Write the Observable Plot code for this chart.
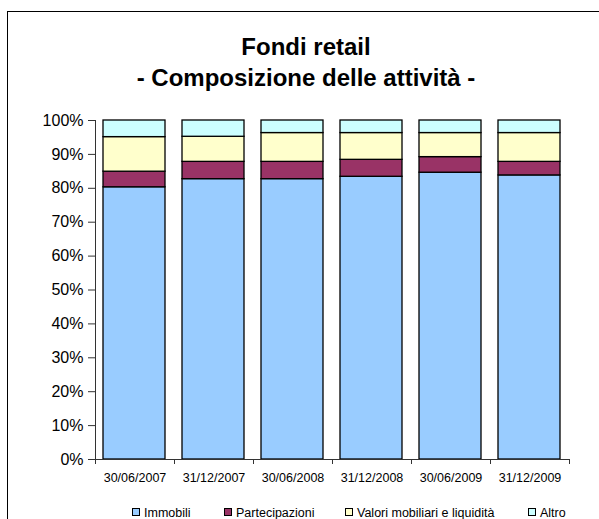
<!DOCTYPE html>
<html>
<head>
<meta charset="utf-8">
<script src="https://cdn.jsdelivr.net/npm/d3@7"></script>
<script src="https://cdn.jsdelivr.net/npm/@observablehq/plot@0.6"></script>
<style>
  html, body { margin: 0; padding: 0; background: #fff; }
  #wrap { position: relative; width: 599px; height: 519px; overflow: hidden; font-family: "Liberation Sans", Arial, sans-serif; }
  #frame { position: absolute; left: 7px; top: 11px; width: 700px; height: 600px; border: 1.5px solid #000; box-sizing: border-box; }
  #title { position: absolute; left: 0; top: 31px; width: 612px; text-align: center; font-weight: bold; font-size: 24px; line-height: 31px; color: #000; }
  #chart { position: absolute; left: 0; top: 100px; }
  #legend { position: absolute; left: 0; top: 506px; width: 599px; height: 16px; font-size: 12.5px; color: #000; }
  .item { position: absolute; top: 0; white-space: nowrap; line-height: 15px; }
  .sw { display: inline-block; width: 6px; height: 6px; border: 1px solid #000; margin-right: 4px; vertical-align: 1px; }
</style>
</head>
<body>
<div id="wrap">
  <div id="frame"></div>
  <div id="title">Fondi retail<br>- Composizione delle attività -</div>
  <div id="chart"></div>
  <div id="legend"></div>
</div>
<script>
const dates = ["30/06/2007", "31/12/2007", "30/06/2008", "31/12/2008", "30/06/2009", "31/12/2009"];
const seriesNames = ["Immobili", "Partecipazioni", "Valori mobiliari e liquidità", "Altro"];
const seriesColors = ["#99CCFF", "#993366", "#FFFFCC", "#CCFFFF"];
const immobili = [80.3, 82.7, 82.7, 83.4, 84.6, 83.8];
const partecipazioni = [4.6, 5.1, 5.1, 5.0, 4.6, 4.0];
const valori = [10.2, 7.4, 8.5, 7.9, 7.1, 8.5];
const altro = [4.9, 4.8, 3.7, 3.7, 3.7, 3.7];
const yTicks = [0, 10, 20, 30, 40, 50, 60, 70, 80, 90, 100];

const seriesValues = [immobili, partecipazioni, valori, altro];
const rows = [];
dates.forEach((d, i) => {
  seriesNames.forEach((s, k) => {
    rows.push({date: d, i0: i, i1: i + 1, series: s, value: seriesValues[k][i]});
  });
});
const boundaries = d3.range(dates.length + 1);
const centers = dates.map((d, i) => i + 0.5);

const chart = Plot.plot({
  width: 599,
  height: 400,
  marginLeft: 95,
  marginRight: 30,
  marginTop: 20,
  marginBottom: 41,
  style: {fontFamily: "Liberation Sans, Arial, sans-serif", background: "transparent", color: "#000"},
  x: {domain: [0, dates.length]},
  y: {domain: [0, 100]},
  color: {domain: seriesNames, range: seriesColors},
  marks: [
    Plot.rectY(rows, Plot.stackY({
      x1: "i0", x2: "i1", y: "value", fill: "series", order: null,
      stroke: "#000", strokeWidth: 1.3, insetLeft: 8, insetRight: 9
    })),
    Plot.ruleY([0], {stroke: "#333", strokeWidth: 1}),
    Plot.ruleX([0], {y1: 0, y2: 100, stroke: "#333", strokeWidth: 1}),
    Plot.axisY({ticks: yTicks, tickSize: 7, tickPadding: 5, tickFormat: d => d + "%", fontSize: 16, label: null, stroke: "#333"}),
    Plot.axisX({ticks: boundaries, tickSize: 5, tickFormat: () => "", label: null, stroke: "#333"}),
    Plot.axisX({ticks: centers, tickSize: 0, tickPadding: 14, tickFormat: v => dates[Math.floor(v)], fontSize: 12.5, label: null})
  ]
});
document.getElementById("chart").appendChild(chart);

const legend = document.getElementById("legend");
const legendLefts = [132, 224, 345, 528];
seriesNames.forEach((s, k) => {
  const it = document.createElement("div");
  it.className = "item";
  it.style.left = legendLefts[k] + "px";
  const sw = document.createElement("span");
  sw.className = "sw";
  sw.style.background = seriesColors[k];
  it.appendChild(sw);
  it.appendChild(document.createTextNode(s));
  legend.appendChild(it);
});
</script>
</body>
</html>
